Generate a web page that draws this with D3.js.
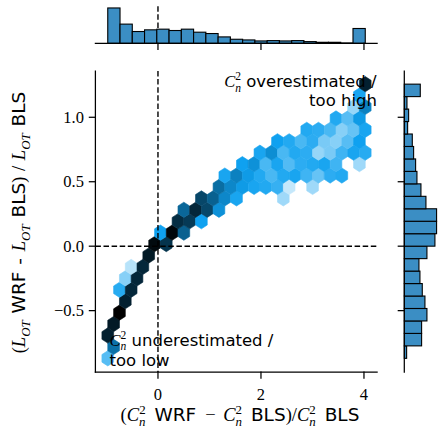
<!DOCTYPE html>
<html><head><meta charset="utf-8">
<script src="https://cdn.jsdelivr.net/npm/d3@7"></script>
<style>body{margin:0;background:#fff}svg{display:block}</style>
</head><body><svg id="c" width="442" height="437"></svg>
<script>
// ---------------- data ----------------
const xTicks = [0, 2, 4];
const xTickLabels = ["0", "2", "4"];
const yTicks = [-0.5, 0, 0.5, 1.0];
const yTickLabels = ["\u22120.5", "0.0", "0.5", "1.0"];

// hexbin grid extent (data units) and gridsize
const hexExtentX = [-0.975, 4.025];
const hexExtentY = [-0.870, 1.257];
const hexGridSize = 22;
// [row, col, count]
const hexCells = [
  [0,0,35],[1,0,65],[2,0,90],[3,0,92],[4,1,100],[5,1,90],
  [6,1,45],[6,2,88],[7,1,25],[7,2,88],[8,2,15],[8,3,88],[9,3,92],
  [10,4,97],[10,5,84],[11,4,50],[11,5,98],[11,6,70],
  [12,6,86],[12,7,82],[12,8,50],
  [13,6,68],[13,7,88],[13,8,78],[13,9,55],
  [14,8,78],[14,9,70],[14,10,58],[14,11,48],[14,15,20],
  [15,9,66],[15,10,58],[15,11,52],[15,12,48],[15,13,46],[15,14,42],[15,15,12],[15,17,20],
  [16,10,48],[16,11,60],[16,12,52],[16,13,46],[16,14,38],[16,15,46],[16,16,48],[16,17,40],[16,18,32],[16,19,44],[16,20,46],
  [17,11,50],[17,12,55],[17,13,38],[17,14,48],[17,15,36],[17,16,44],[17,17,46],[17,18,48],[17,19,40],[17,21,20],
  [18,13,48],[18,14,56],[18,15,38],[18,16,46],[18,17,44],[18,18,22],[18,19,28],[18,20,40],[18,21,48],[18,22,45],
  [19,14,50],[19,15,46],[19,16,38],[19,17,44],[19,18,28],[19,19,25],[19,20,35],[19,21,50],
  [20,17,46],[20,18,44],[20,19,38],[20,20,25],[20,21,32],[20,22,48],
  [21,19,46],[21,20,35],[21,21,52],
  [22,21,22],[22,22,60],
  [23,21,48],
  [24,22,90]
];

// marginal histograms
const topHistRange = [-0.975, 4.025];
const topHistCounts = [105,57,35,40,42,38,42,33,29,19,12,10,7,8,7,8,5,3,3,1,44];
const rightHistRange = [-0.870, 1.257];
const rightHistCounts = [7,52,52,68,62,54,47,44,68,92,97,97,65,50,38,34,28,24,10,13,8,48];

// ---------------- layout ----------------
const svg = d3.select("#c");
const M = {left: 95.4, right: 377.1, top: 71, bottom: 372};
const x = d3.scaleLinear().domain([-1.215, 4.255]).range([M.left, M.right]);
const y = d3.scaleLinear().domain([-0.976, 1.359]).range([M.bottom, M.top]);
const topH = d3.scaleLinear().domain([0, 105 * 1.05]).range([43.3, 6.2]);
const rightW = d3.scaleLinear().domain([0, 97 * 1.05]).range([404.3, 438.2]);

const barFill = "#3b8ec4";
const hexHue = 201, hexSat = 0.88;

const SERIF = "'Liberation Serif', 'DejaVu Serif', serif";
const SANS = "'DejaVu Sans', sans-serif";

// ---------------- hexes ----------------
const sx = (hexExtentX[1] - hexExtentX[0]) / hexGridSize;
const ny = Math.floor(hexGridSize / Math.sqrt(3));
const sy = (hexExtentY[1] - hexExtentY[0]) / ny;
const maxCount = d3.max(hexCells, d => d[2]);
const hexOff = [[sx/2, -sy/6],[sx/2, sy/6],[0, sy/3],[-sx/2, sy/6],[-sx/2, -sy/6],[0, -sy/3]];
function hexColor(c) { return d3.hsl(hexHue, hexSat, 1 - c / maxCount).formatHex(); }

const gHex = svg.append("g");
gHex.selectAll("polygon").data(hexCells).join("polygon")
  .attr("points", d => {
    const cx = hexExtentX[0] + d[1] * sx + (d[0] % 2 ? sx / 2 : 0);
    const cy = hexExtentY[0] + d[0] * sy / 2;
    return hexOff.map(o => [x(cx + o[0]), y(cy + o[1])].join(",")).join(" ");
  })
  .attr("fill", d => hexColor(d[2]))
  .attr("stroke", d => hexColor(d[2]))
  .attr("stroke-width", 0.6);

// ---------------- dashed reference lines ----------------
const dash = "5.5,2.6";
svg.append("line").attr("x1", x(0)).attr("x2", x(0)).attr("y1", M.top).attr("y2", M.bottom)
  .attr("stroke", "#000").attr("stroke-width", 1.4).attr("stroke-dasharray", dash);
svg.append("line").attr("x1", M.left).attr("x2", M.right).attr("y1", y(0)).attr("y2", y(0))
  .attr("stroke", "#000").attr("stroke-width", 1.4).attr("stroke-dasharray", dash);
svg.append("line").attr("x1", x(0)).attr("x2", x(0)).attr("y1", 6.2).attr("y2", 43.3)
  .attr("stroke", "#000").attr("stroke-width", 1.4).attr("stroke-dasharray", dash);

// ---------------- top histogram ----------------
const tw = (topHistRange[1] - topHistRange[0]) / topHistCounts.length;
svg.append("g").selectAll("rect").data(topHistCounts).join("rect")
  .attr("x", (d, i) => x(topHistRange[0] + i * tw))
  .attr("width", (d, i) => x(topHistRange[0] + (i + 1) * tw) - x(topHistRange[0] + i * tw))
  .attr("y", d => topH(d)).attr("height", d => topH(0) - topH(d))
  .attr("fill", barFill).attr("stroke", "#000").attr("stroke-width", 1.1);

// ---------------- right histogram ----------------
const rh = (rightHistRange[1] - rightHistRange[0]) / rightHistCounts.length;
svg.append("g").selectAll("rect").data(rightHistCounts).join("rect")
  .attr("y", (d, i) => y(rightHistRange[0] + (i + 1) * rh))
  .attr("height", (d, i) => y(rightHistRange[0] + i * rh) - y(rightHistRange[0] + (i + 1) * rh))
  .attr("x", rightW(0)).attr("width", d => rightW(d) - rightW(0))
  .attr("fill", barFill).attr("stroke", "#000").attr("stroke-width", 1.1);

// ---------------- axes ----------------
const axW = 1.25, tickLen = 6;
function ln(x1, y1, x2, y2) {
  svg.append("line").attr("x1", x1).attr("x2", x2).attr("y1", y1).attr("y2", y2)
    .attr("stroke", "#000").attr("stroke-width", axW).attr("stroke-linecap", "square");
}
ln(M.left, M.bottom, M.right, M.bottom);
ln(M.left, M.top, M.left, M.bottom);
ln(M.left, 43.3, M.right, 43.3);
ln(404.3, M.top, 404.3, M.bottom);

xTicks.forEach((t, i) => {
  ln(x(t), M.bottom, x(t), M.bottom + tickLen);
  ln(x(t), 43.3, x(t), 43.3 + tickLen);
  svg.append("text").attr("x", x(t)).attr("y", 400).attr("text-anchor", "middle")
    .attr("font-family", SERIF).attr("font-size", 16.5).text(xTickLabels[i]);
});
yTicks.forEach((t, i) => {
  ln(M.left - tickLen, y(t), M.left, y(t));
  ln(404.3 - tickLen, y(t), 404.3, y(t));
  svg.append("text").attr("x", M.left - tickLen - 5.5).attr("y", y(t) + 5.5).attr("text-anchor", "end")
    .attr("font-family", SERIF).attr("font-size", 16.5).text(yTickLabels[i]);
});

// ---------------- rich text helper ----------------
function rich(sel, parts, fs) {
  let shift = 0;
  parts.forEach(p => {
    const ts = sel.append("tspan");
    let fam = p.f === "m" ? SERIF : SANS;
    ts.attr("font-family", fam);
    if (p.i) ts.attr("font-style", "italic");
    let target = 0, size = fs;
    if (p.sub) { target = 0.28 * fs; size = 0.7 * fs; }
    if (p.sup) { target = -0.4 * fs; size = 0.7 * fs; }
    ts.attr("font-size", size);
    const dy = target - shift;
    if (dy !== 0) ts.attr("dy", dy);
    if (p.dx) ts.attr("dx", p.dx * fs);
    shift = target;
    ts.text(p.t);
  });
}
const Cn2 = [{t: "C", f: "m", i: true}, {t: "2", f: "m", sup: true}, {t: "n", f: "m", i: true, sub: true, dx: -0.35}];
const LOT = [{t: "L", f: "m", i: true}, {t: "OT", f: "m", i: true, sub: true}];

// x label
const xl = svg.append("text").attr("x", 240).attr("y", 421).attr("text-anchor", "middle")
  .attr("word-spacing", 3);
rich(xl, [{t: "(", f: "m"}, ...Cn2, {t: " WRF ", f: "s"}, {t: "\u2212 ", f: "m"}, ...Cn2,
  {t: " BLS", f: "s"}, {t: ")/", f: "m"}, ...Cn2, {t: " BLS", f: "s"}], 18.5);

// y label
const yl = svg.append("text").attr("transform", `translate(25,222.5) rotate(-90)`)
  .attr("text-anchor", "middle").attr("word-spacing", 1);
rich(yl, [{t: "(", f: "m"}, ...LOT, {t: " WRF - ", f: "s"}, ...LOT, {t: " BLS", f: "s"},
  {t: ") / ", f: "m"}, ...LOT, {t: " BLS", f: "s"}], 18.5);
xl.style("white-space", "pre"); yl.style("white-space", "pre");

// annotations
const a1 = svg.append("text").attr("x", 376.5).attr("y", 87).attr("text-anchor", "end").style("white-space", "pre");
rich(a1, [...Cn2, {t: " overestimated /", f: "s"}], 16.5);
svg.append("text").attr("x", 377).attr("y", 105.5).attr("text-anchor", "end")
  .attr("font-family", SANS).attr("font-size", 16.5).text("too high");
const a2 = svg.append("text").attr("x", 109.5).attr("y", 345.5).attr("text-anchor", "start").style("white-space", "pre");
rich(a2, [...Cn2, {t: " underestimated /", f: "s"}], 16.5);
svg.append("text").attr("x", 109.5).attr("y", 365.5).attr("text-anchor", "start")
  .attr("font-family", SANS).attr("font-size", 16.5).text("too low");
</script></body></html>
